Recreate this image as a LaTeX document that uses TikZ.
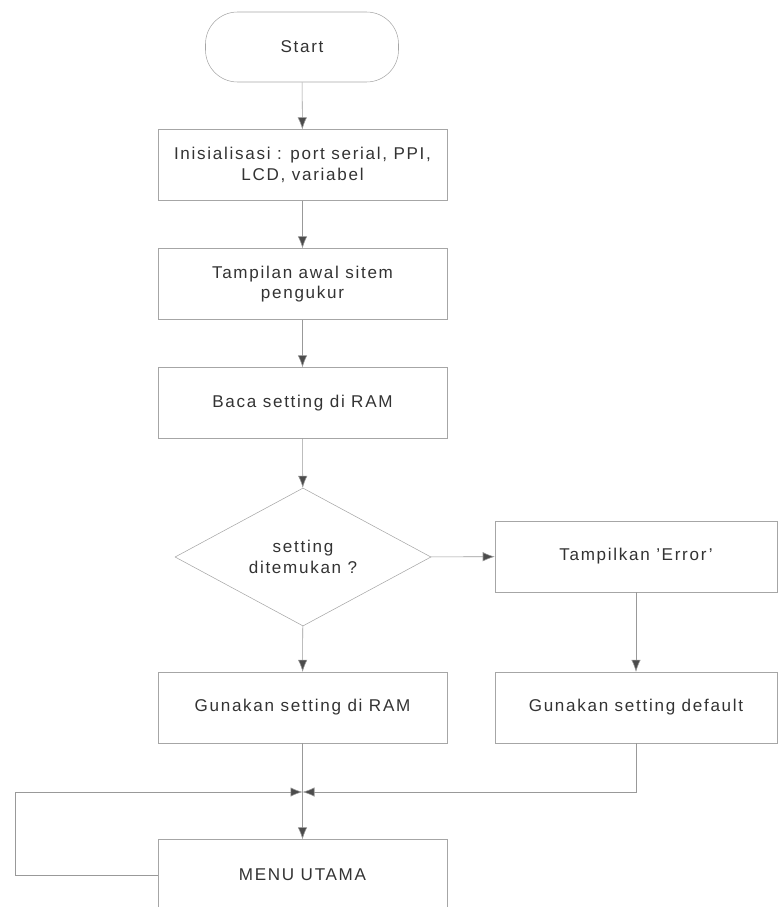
\documentclass[tikz,border=0pt]{standalone}
\usepackage{fontspec}
\setmainfont[LetterSpace=10]{Liberation Sans}
\usetikzlibrary{shapes.geometric,arrows.meta}

\begin{document}
\begin{tikzpicture}[x=0.75pt,y=-0.75pt,font=\fontsize{12.8}{15.5}\selectfont]
\tikzstyle{proses}=[rectangle,draw=gray!70,thin,text=black!80,align=center,minimum width=216.75pt,minimum height=53pt,inner sep=2pt]
\tikzstyle{keputusan}=[diamond,draw=gray!70,thin,text=black!80,align=center,aspect=1.85,minimum width=192pt,minimum height=103.5pt,inner sep=0pt]
\tikzstyle{mulai}=[rectangle,rounded corners=24pt,draw=gray!70,thin,text=black!80,minimum width=144.75pt,minimum height=52.5pt]
\tikzstyle{panah}=[gray!80,thin,-{Latex[length=9pt,width=7pt,fill=black!70]}]
\useasboundingbox (0,0) rectangle (779,907);
\node[mulai] (start) at (302,47) {Start};
\foreach \name/\point/\teks in {
	init/{302.5,165}/{Inisialisasi : port serial, PPI,\\ LCD, variabel},
	tampil/{302.5,284}/{Tampilan awal sitem\\ pengukur},
	baca/{302.5,403}/{Baca setting di RAM},
	pakairam/{302.5,707.5}/{Gunakan setting di RAM},
	menu/{302.5,875}/{MENU UTAMA}}
	\node[proses] (\name) at (\point) {\teks};
\node[keputusan] (cek) at (303,557) {setting\\ ditemukan ?};
\node[proses,minimum width=211.5pt] (error) at (636,556.5) {Tampilkan 'Error'};
\node[proses,minimum width=211.5pt] (pakaidef) at (636,707.5) {Gunakan setting default};
\coordinate (temu) at (302.5,792);
\draw[panah] (start) -- (init);
\draw[panah] (init) -- (tampil);
\draw[panah] (tampil) -- (baca);
\draw[panah] (baca) -- (cek);
\draw[panah] (cek) -- (error);
\draw[panah] (cek) -- (pakairam);
\draw[panah] (error) -- (pakaidef);
\draw[panah] (pakairam) -- (menu);
\draw[panah] (pakaidef.south) |- (temu);
\draw[panah] (menu.west) -| (15,792) -- (temu);
\end{tikzpicture}
\end{document}
